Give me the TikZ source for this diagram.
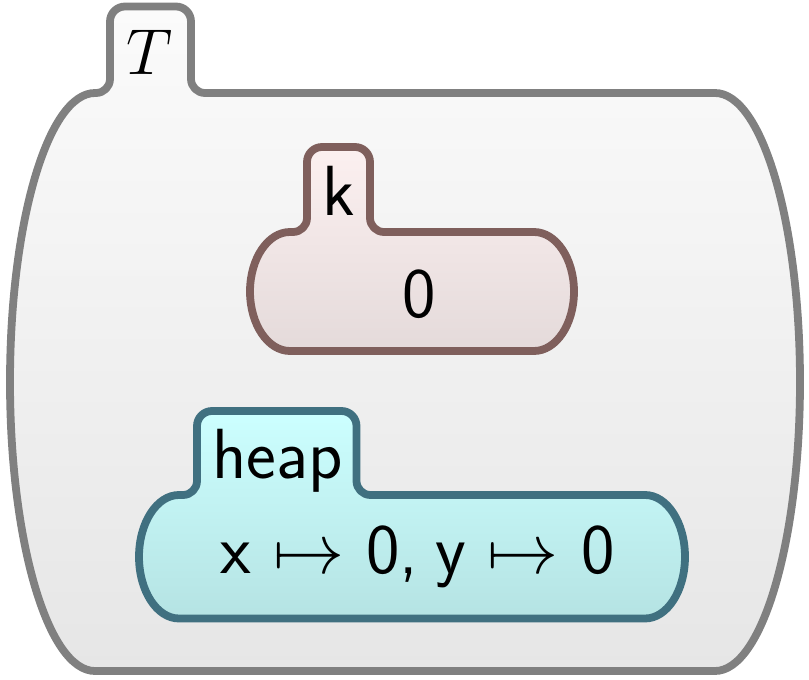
\RequirePackage{fix-cm}
\documentclass[tikz,border=0pt]{standalone}
\usetikzlibrary{shadings}
\definecolor{tstroke}{RGB}{128,128,128}
\definecolor{ttop}{RGB}{251,251,251}
\definecolor{tbot}{RGB}{230,230,230}
\definecolor{kstroke}{RGB}{127,95,92}
\definecolor{ktop}{RGB}{252,240,240}
\definecolor{kbot}{RGB}{228,218,218}
\definecolor{hstroke}{RGB}{64,112,128}
\definecolor{htop}{RGB}{204,255,255}
\definecolor{hbot}{RGB}{181,227,227}
\def\kfr{14}
\def\ktr{15}
% #1 L, #2 R, #3 top, #4 bottom, #5 rx, #6 tab left, #7 tab right, #8 tab top, #9 style
\newcommand\kcellpath[9]{%
  \path[#9] ({#1+#5},#3) -- ({#6-\kfr},#3)
    arc[start angle=90,end angle=0,radius=\kfr] -- (#6,{#8+\ktr})
    arc[start angle=180,end angle=270,radius=\ktr] -- ({#7-\ktr},#8)
    arc[start angle=270,end angle=360,radius=\ktr] -- (#7,{#3-\kfr})
    arc[start angle=180,end angle=90,radius=\kfr] -- ({#2-#5},#3)
    arc[start angle=270,end angle=450,x radius=#5,y radius={(#4-#3)/2}] -- ({#1+#5},#4)
    arc[start angle=90,end angle=270,x radius=#5,y radius={(#4-#3)/2}] -- cycle;}
\tikzset{
  cellline/.style={line width=3.9pt, line join=round},
  tcell/.style={cellline, draw=tstroke, top color=ttop, bottom color=tbot},
  kcell/.style={cellline, draw=kstroke, top color=ktop, bottom color=kbot},
  hcell/.style={cellline, draw=hstroke, top color=htop, bottom color=hbot},
  lbl/.style={anchor=base, inner sep=0pt, font=\fontsize{35.5}{41}\selectfont\sffamily},
  mlbl/.style={anchor=base, inner sep=0pt, font=\fontsize{32.5}{38}\selectfont}
}
\begin{document}
\begin{tikzpicture}[x=0.5pt,y=-0.5pt]
\useasboundingbox (0,0) rectangle (809,680);
\kcellpath{10}{800}{93}{671}{85}{110}{191}{6.5}{tcell}
\kcellpath{250}{574}{232}{351}{40}{307}{370}{147}{kcell}
\kcellpath{139}{685}{495}{618.5}{40}{197}{356.5}{411}{hcell}
\node[mlbl] (tlabel) at (150,75) {$T$};
\node[lbl] (klabel) at (338.5,215) {k};
\node[lbl] (kcontent) at (419,317) {0};
\node[lbl] (hlabel) at (277.5,478) {heap};
\node[lbl] (hcontent) at (417.5,573) {x $\mapsto$ 0,\kern-0.08em{} y $\mapsto$ 0};
\end{tikzpicture}
\end{document}
